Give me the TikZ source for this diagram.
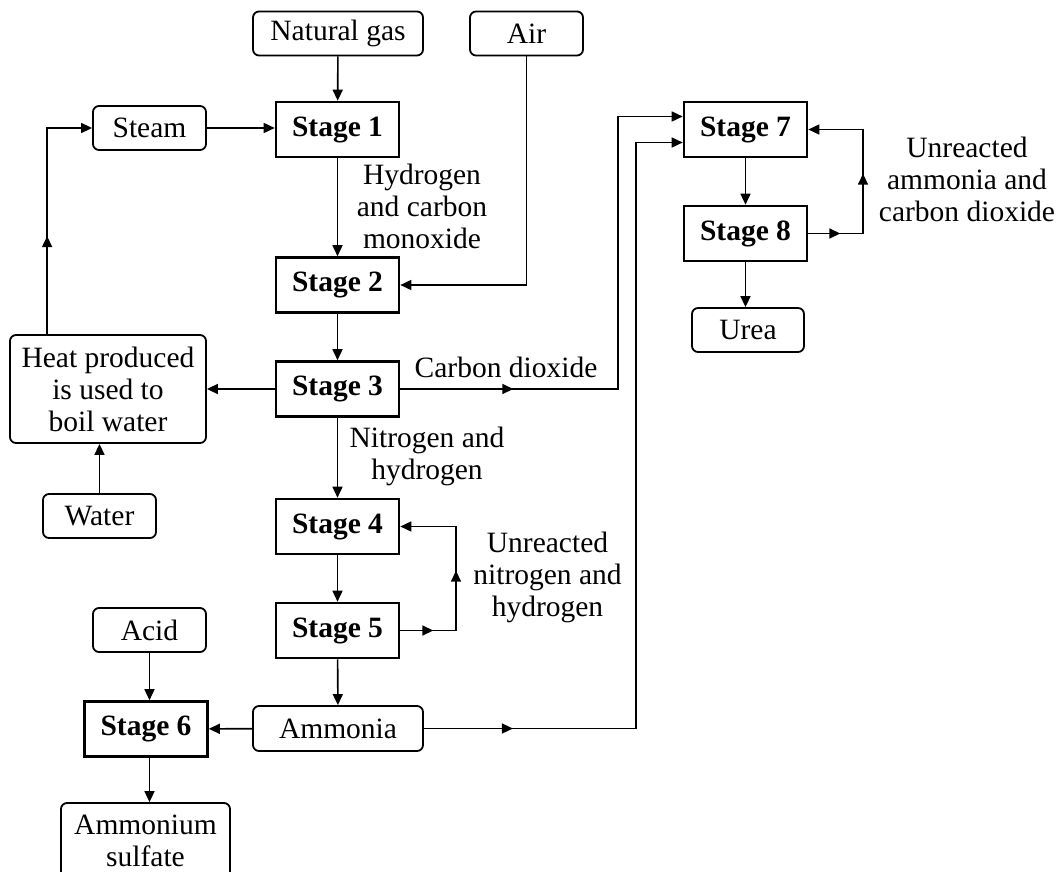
\documentclass[tikz,border=0pt]{standalone}
\usepackage{fontspec}
\setmainfont{Liberation Serif}
\usetikzlibrary{arrows.meta,decorations.markings}

\tikzset{
  flow/.style={draw, line width=0.8pt, -{Triangle[length=5.5pt,width=5pt]}},
  stagebox/.style={draw, line width=1.3pt, minimum width=61.5pt, minimum height=27.5pt,
    inner sep=0pt, font=\fontsize{14.75}{16}\selectfont\bfseries},
  feed/.style={draw, line width=0.9pt, rounded corners=3pt, minimum height=22pt,
    inner sep=0pt, align=center, font=\fontsize{14.75}{16}\selectfont},
  lbl/.style={inner sep=0pt, align=center, font=\fontsize{14.75}{16}\selectfont},
  midarr/.style={postaction={decorate, decoration={markings,
    mark=at position #1 with {\arrow{Triangle[length=5.5pt,width=5pt]}}}}},
  midarrs/.style 2 args={postaction={decorate, decoration={markings,
    mark=at position #1 with {\arrow{Triangle[length=5.5pt,width=5pt]}},
    mark=at position #2 with {\arrow{Triangle[length=5.5pt,width=5pt]}}}}},
}

\begin{document}
\begin{tikzpicture}[x=0.5pt,y=-0.5pt]
  \useasboundingbox (0,0) rectangle (1060,872);

  % inputs and products
  \node[feed, minimum width=85pt] (gas) at (338,33.5) {Natural gas};
  \node[feed, minimum width=56.5pt] (air) at (526.5,33.5) {Air};
  \node[feed, minimum width=56.5pt] (steam) at (149.5,128) {Steam};
  \node[feed, minimum width=98pt, minimum height=54pt] (heat) at (108,389) {Heat produced\\is used to\\boil water};
  \node[feed, minimum width=56.5pt] (water) at (99.5,516) {Water};
  \node[feed, minimum width=56.5pt] (acid) at (149.5,630) {Acid};
  \node[feed, minimum width=85pt, minimum height=22.5pt] (ammonia) at (338,728.5) {Ammonia};
  \node[feed, minimum width=84.5pt, minimum height=38pt] (sulfate) at (145.5,841) {Ammonium\\sulfate};
  \node[feed, minimum width=56pt] (urea) at (748,330) {Urea};

  % stages
  \node[stagebox] (s1) at (337.5,129.5) {Stage 1};
  \node[stagebox] (s2) at (337.5,285) {Stage 2};
  \node[stagebox] (s3) at (337.5,389) {Stage 3};
  \node[stagebox] (s4) at (337.5,526.5) {Stage 4};
  \node[stagebox] (s5) at (337.5,630.5) {Stage 5};
  \node[stagebox] (s6) at (146,729) {Stage 6};
  \node[stagebox] (s7) at (745.5,129.5) {Stage 7};
  \node[stagebox] (s8) at (745.5,233.5) {Stage 8};

  % stream labels
  \node[lbl] (h2co) at (422,206.5) {Hydrogen\\and carbon\\monoxide};
  \node[lbl] (co2lbl) at (506,367) {Carbon dioxide};
  \node[lbl] (n2h2) at (427,456.5) {Nitrogen and\\hydrogen};
  \node[lbl] (unr45) at (547.5,577) {Unreacted\\nitrogen and\\hydrogen};
  \node[lbl] (unr78) at (967,179) {Unreacted\\ammonia and\\carbon dioxide};

  \coordinate (co2x) at (618,389);
  \coordinate (nh3x) at (636,728.5);
  \coordinate (rec45) at (456,630.5);
  \coordinate (rec78) at (863,233.5);

  % connectors
  \draw[flow] (gas) -- (s1);
  \draw[flow] (steam.east) -- (steam.east -| s1.west);
  \draw[flow, midarr=49pt] ([xshift=19pt]heat.north west) |- (steam.west);
  \draw[flow] (water) -- (water |- heat.south);
  \draw[flow] (s1) -- (s2);
  \draw[flow] (air) |- (s2);
  \draw[flow] (s2) -- (s3);
  \draw[flow] (s3) -- (heat);
  \draw[flow, midarr=56.5pt] (s3.east) -- (co2x) |- ([yshift=6.5pt]s7.west);
  \draw[flow] (s3) -- (s4);
  \draw[flow] (s4) -- (s5);
  \draw[flow, midarrs={16.5pt}{57.75pt}] (s5.east) -- (rec45) |- (s4.east);
  \draw[flow] (s5) -- (ammonia);
  \draw[flow] (ammonia) -- (s6);
  \draw[flow, midarr=44.5pt] (ammonia.east) -- (nh3x) |- ([yshift=-6.5pt]s7.west);
  \draw[flow] (acid.south) -- (acid.south |- s6.north);
  \draw[flow] (acid.south |- s6.south) -- (acid.south |- sulfate.north);
  \draw[flow] (s7) -- (s8);
  \draw[flow] (s8.south) -- (s8.south |- urea.north);
  \draw[flow, midarrs={16pt}{57.25pt}] (s8.east) -- (rec78) |- (s7.east);
\end{tikzpicture}
\end{document}
